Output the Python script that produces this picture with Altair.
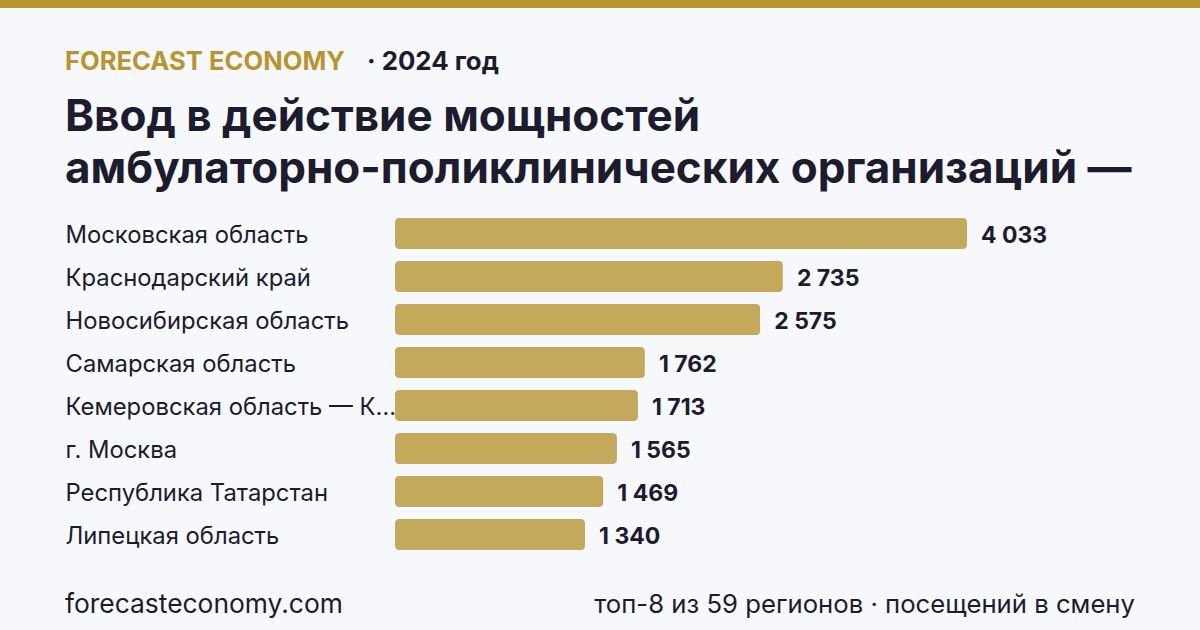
import altair as alt
import pandas as pd

regions = [
    "Московская область",
    "Краснодарский край",
    "Новосибирская область",
    "Самарская область",
    "Кемеровская область — Кузбасс",
    "г. Москва",
    "Республика Татарстан",
    "Липецкая область",
]
values = [4033, 2735, 2575, 1762, 1713, 1565, 1469, 1340]

header_brand = "FORECAST ECONOMY"
header_year = "· 2024 год"
title_lines = ["Ввод в действие мощностей", "амбулаторно-поликлинических организаций —"]
footer_left = "forecasteconomy.com"
footer_right = "топ-8 из 59 регионов · посещений в смену"

FONT = "Inter"
DARK = "#1c1c2e"
GOLD = "#b8952e"
BAR = "#c4a85c"
BG = "#f7f8fc"

W, H = 572, 344
LEFT, TOP = 395, 212

df = pd.DataFrame({
    "region": regions,
    "value": values,
    "label": [f"{v:,}".replace(",", "\u00a0") for v in values],
})
one = pd.DataFrame({"k": [0]})

x = alt.X("value:Q", scale=alt.Scale(domain=[0, max(values)], nice=False), axis=None)
y = alt.Y(
    "region:N",
    sort=regions,
    scale=alt.Scale(paddingInner=0.28, paddingOuter=0.14),
    axis=alt.Axis(
        title=None, domain=False, ticks=False, grid=False,
        labelAlign="left", labelPadding=LEFT - 65, labelLimit=338,
        labelFont=FONT, labelFontSize=23.8, labelColor=DARK, labelOffset=2,
    ),
)

bars = alt.Chart(df).mark_bar(color=BAR, cornerRadius=4).encode(x=x, y=y)
vals = alt.Chart(df).mark_text(
    align="left", baseline="middle", dx=14, dy=2, font=FONT, fontSize=23,
    fontWeight="bold", color=DARK,
).encode(x=x, y=y, text="label:N")

def txt(text, xp, yp, size, weight="normal", color=DARK, align="left"):
    return alt.Chart(one).mark_text(
        align=align, baseline="alphabetic", font=FONT, fontSize=size,
        fontWeight=weight, color=color,
    ).encode(x=alt.value(xp - LEFT), y=alt.value(yp - TOP), text=alt.value(text))

topbar = alt.Chart(one).mark_rect(color=GOLD).encode(
    x=alt.value(-LEFT), x2=alt.value(1200 - LEFT), y=alt.value(-TOP), y2=alt.value(8 - TOP)
)

layers = [
    topbar,
    txt(header_brand, 65, 70, 25.6, "bold", GOLD),
    txt(header_year, 367, 70, 25.8, "bold", DARK),
    txt(title_lines[0], 65, 131, 44, "bold"),
    txt(title_lines[1], 65, 183, 44, "bold"),
    txt(footer_left, 65, 613, 26.4),
    txt(footer_right, 1135, 613, 25.7, align="right"),
    bars,
    vals,
]

chart = alt.layer(*layers).properties(
    width=W, height=H,
    autosize=alt.AutoSizeParams(type="none"),
    padding={"left": LEFT, "top": TOP, "right": 1200 - LEFT - W, "bottom": 630 - TOP - H},
).configure(background=BG).configure_view(stroke=None)

chart.save("out.html", embed_options={"renderer": "svg", "actions": False})
